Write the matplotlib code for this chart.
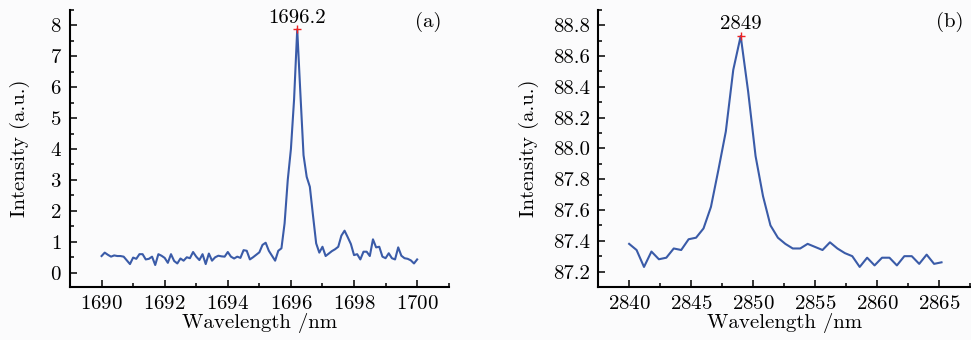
import numpy as np
import matplotlib
matplotlib.use("Agg")
import matplotlib.pyplot as plt
from matplotlib.ticker import MultipleLocator

plt.rcParams['font.family'] = ['cmr10', 'DejaVu Serif']
plt.rcParams['axes.formatter.use_mathtext'] = True

# panel (a): 1690-1700 nm, 0.1 nm steps
wl_a = np.linspace(1690, 1700, 101)
int_a = [0.54, 0.65, 0.58, 0.52, 0.56, 0.54, 0.54, 0.52, 0.40, 0.28,
         0.49, 0.45, 0.60, 0.60, 0.43, 0.45, 0.52, 0.25, 0.60, 0.55,
         0.48, 0.32, 0.60, 0.38, 0.30, 0.46, 0.39, 0.50, 0.47, 0.67,
         0.52, 0.41, 0.60, 0.28, 0.62, 0.39, 0.50, 0.55, 0.53, 0.52,
         0.67, 0.52, 0.46, 0.52, 0.48, 0.73, 0.71, 0.43, 0.50, 0.58,
         0.66, 0.90, 0.97, 0.71, 0.55, 0.39, 0.71, 0.79, 1.60, 3.00,
         4.00, 5.60, 7.87, 5.80, 3.80, 3.10, 2.78, 1.85, 0.95, 0.65,
         0.84, 0.54, 0.62, 0.70, 0.76, 0.84, 1.20, 1.36, 1.15, 0.93,
         0.57, 0.60, 0.43, 0.68, 0.68, 0.54, 1.08, 0.82, 0.84, 0.52,
         0.47, 0.63, 0.47, 0.43, 0.82, 0.55, 0.47, 0.45, 0.40, 0.30,
         0.43]
peak_a = (1696.2, 7.87)

# panel (b): 2840-2865.2 nm, 0.6 nm steps
wl_b = np.linspace(2840, 2865.2, 43)
int_b = [87.38, 87.34, 87.23, 87.33, 87.28, 87.29, 87.35, 87.34, 87.41, 87.42,
         87.48, 87.62, 87.86, 88.11, 88.51, 88.73, 88.37, 87.95, 87.69, 87.50,
         87.42, 87.38, 87.35, 87.35, 87.38, 87.36, 87.34, 87.39, 87.35, 87.32,
         87.30, 87.23, 87.29, 87.24, 87.29, 87.29, 87.24, 87.30, 87.30, 87.25,
         87.31, 87.25, 87.26]
peak_b = (2849.0, 88.73)

line_color = '#3a5ba8'
bg = '#fbfbfc'
fs = 15

fig = plt.figure(figsize=(9.71, 3.4), dpi=100, facecolor=bg)
ax1 = fig.add_axes([0.0721, 0.156, 0.390, 0.815])
ax2 = fig.add_axes([0.616, 0.156, 0.383, 0.815])

panels = [
    (ax1, wl_a, int_a, peak_a, '1696.2', '(a)', (1689, 1701), (-0.46, 8.5), 2, 1, 1, 0.5),
    (ax2, wl_b, int_b, peak_b, '2849', '(b)', (2837.5, 2867.5), (87.1, 88.9), 5, 2.5, 0.2, 0.1),
]

for ax, x, y, pk, pk_text, tag, xl, yl, xmaj, xmin, ymaj, ymin in panels:
    ax.set_facecolor(bg)
    ax.plot(x, y, color=line_color, lw=1.5)
    ax.plot(pk[0], pk[1], '+', color='#ee2222', ms=6, mew=1.0)
    ax.annotate(pk_text, pk, xytext=(0, 2), textcoords='offset points',
                ha='center', va='bottom', fontsize=fs)
    ax.text(0.945, 0.955, tag, transform=ax.transAxes, ha='center', va='center', fontsize=fs)
    ax.set_xlim(*xl)
    ax.set_ylim(*yl)
    ax.xaxis.set_major_locator(MultipleLocator(xmaj))
    ax.xaxis.set_minor_locator(MultipleLocator(xmin))
    ax.yaxis.set_major_locator(MultipleLocator(ymaj))
    ax.yaxis.set_minor_locator(MultipleLocator(ymin))
    for s in ['top', 'right']:
        ax.spines[s].set_visible(False)
    for s in ['left', 'bottom']:
        ax.spines[s].set_linewidth(1.5)
    ax.tick_params(which='major', direction='in', length=5, width=1.1, labelsize=fs, pad=6)
    ax.tick_params(which='minor', direction='in', length=3, width=1.1)
    ax.set_xlabel('Wavelength /nm', fontsize=fs, labelpad=0)

ax1.set_ylabel('Intensity (a.u.)', fontsize=fs, labelpad=14)
ax2.set_ylabel('Intensity (a.u.)', fontsize=fs, labelpad=10)
ax2.yaxis.set_major_formatter(matplotlib.ticker.FormatStrFormatter('%.1f'))

fig.savefig('out.png', dpi=100, facecolor=bg)
